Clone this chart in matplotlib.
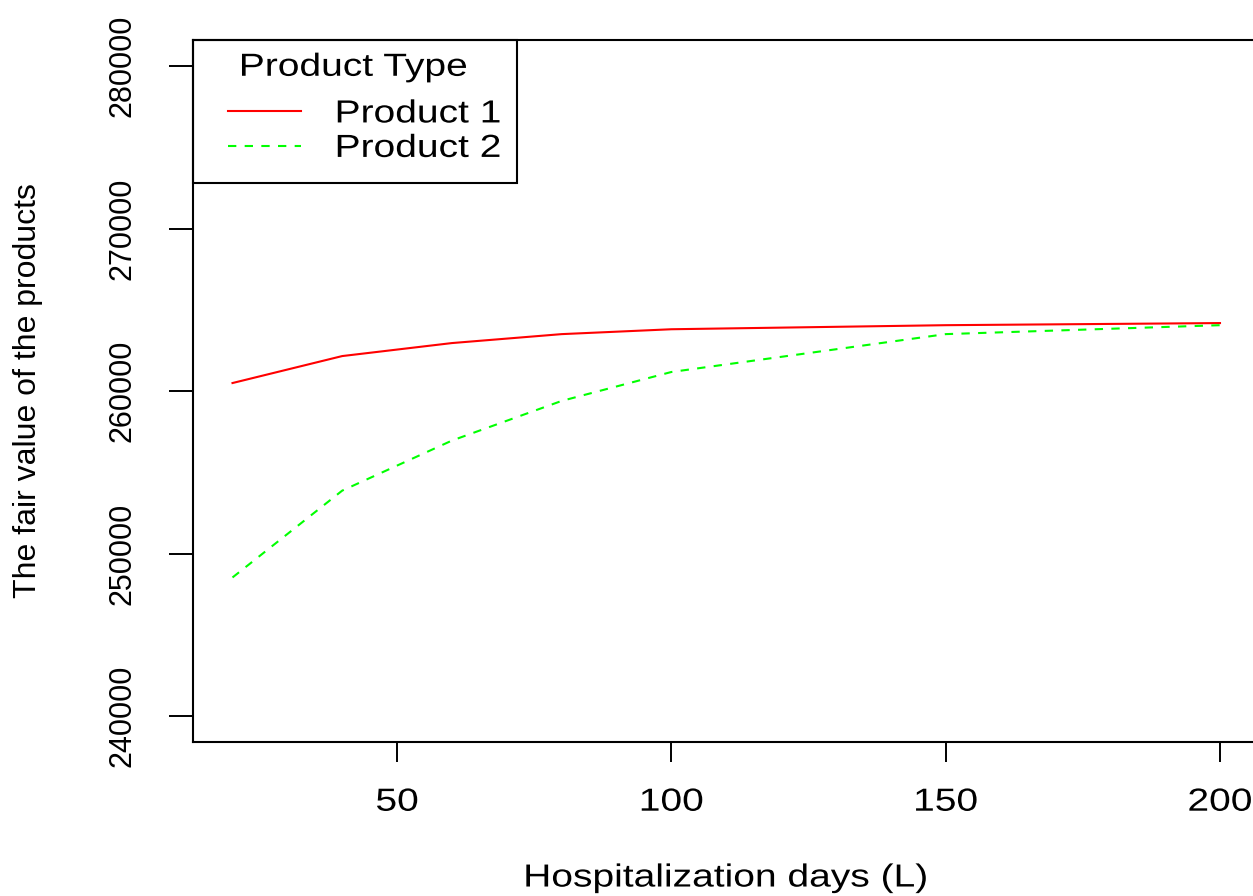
import matplotlib
matplotlib.use("Agg")
import matplotlib.pyplot as plt
from matplotlib.lines import Line2D
from matplotlib.patches import Rectangle
from matplotlib.legend_handler import HandlerLine2D
from matplotlib.patheffects import AbstractPathEffect
from matplotlib.transforms import Affine2D

days = [20, 40, 60, 80, 100, 150, 200]
product1 = [260490, 262150, 262950, 263500, 263800, 264050, 264180]
product2 = [248525, 253870, 256950, 259390, 261170, 263500, 264050]
series_names = ['Product 1', 'Product 2']
xticks = [50, 100, 150, 200]
yticks = [240000, 250000, 260000, 270000, 280000]


class Stretch(AbstractPathEffect):
    """Draw text glyphs widened horizontally (mimics the stretched R output)."""
    def __init__(self, sx=1.22, frac=0.0):
        super().__init__()
        self.sx = sx
        self.frac = frac

    def draw_path(self, renderer, gc, tpath, affine, rgbFace=None):
        ext = tpath.get_extents()
        cx = ext.x0 + self.frac * (ext.x1 - ext.x0)
        t = Affine2D().translate(-cx, 0).scale(self.sx, 1.0).translate(cx, 0)
        renderer.draw_path(gc, tpath, t + affine, rgbFace)


SX = 1.22
FS = 23
plt.rcParams['font.family'] = ['Liberation Sans', 'DejaVu Sans']

W, H = 1253, 896
fig = plt.figure(figsize=(W / 100, H / 100), dpi=100)
ax = fig.add_axes([193 / W, (H - 742) / H, (1259.5 - 193) / W, (742 - 40) / H])

l1, = ax.plot(days, product1, color='#FF0000', lw=1.5, linestyle='-', label=series_names[0])
l2, = ax.plot(days, product2, color='#00FF00', lw=1.5, linestyle=(0, (4, 4)), label=series_names[1])

ax.set_xlim(12.8, 207.2)
ax.set_ylim(238400, 281600)
ax.set_xticks(xticks)
ax.set_xticklabels([str(t) for t in xticks])
ax.set_yticks(yticks)
ax.set_yticklabels([str(t) for t in yticks], rotation=90, va='center')
ax.tick_params(axis='x', direction='out', length=14.4, width=1.4, labelsize=FS, pad=18.5, colors='black')
ax.tick_params(axis='y', direction='out', length=17.3, width=1.4, labelsize=22, pad=23, colors='black')
for s in ax.spines.values():
    s.set_linewidth(1.5)

for lab in ax.get_xticklabels():
    lab.set_path_effects([Stretch(SX, 0.5)])

xl = ax.set_xlabel('Hospitalization days (L)', fontsize=FS, labelpad=33)
xl.set_path_effects([Stretch(SX, 0.5)])
ax.set_ylabel('The fair value of the products', fontsize=FS, labelpad=46)

leg = ax.legend(title='Product Type', loc='upper left', bbox_to_anchor=(0, 1), borderaxespad=0,
                fontsize=FS, title_fontsize=FS, frameon=False,
                handlelength=3.67, handletextpad=0.38, labelspacing=0.14,
                borderpad=0.40,
                handler_map={Line2D: HandlerLine2D(marker_pad=0.69, numpoints=2)})
leg._legend_box.sep = 12
for t in leg.get_texts():
    t.set_path_effects([Stretch(SX, 0.0)])
leg.get_title().set_path_effects([Stretch(SX, 0.14)])

frame = Rectangle((0, 1 - (183 - 40) / 702), (517 - 193) / 1066.5, (183 - 40) / 702,
                  transform=ax.transAxes, fill=False, edgecolor='black', lw=1.5,
                  clip_on=False, zorder=5)
ax.add_patch(frame)

fig.savefig('out.png', dpi=100)
